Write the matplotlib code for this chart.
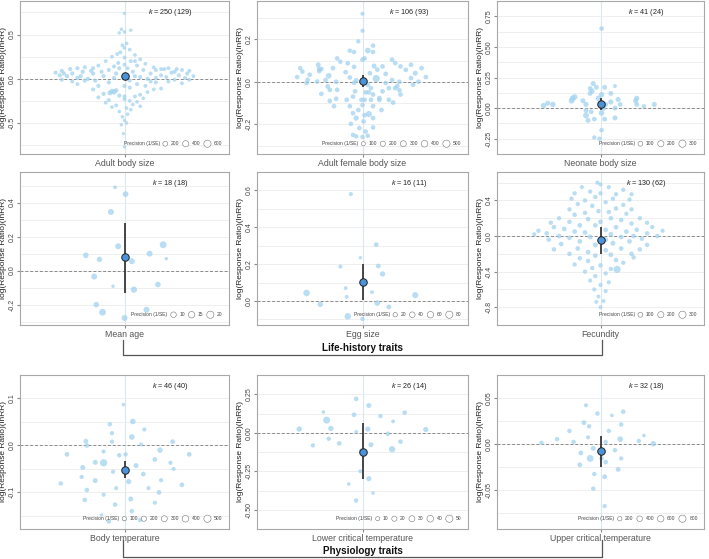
import matplotlib
matplotlib.use("Agg")
import matplotlib.pyplot as plt
import numpy as np
from matplotlib.offsetbox import HPacker, TextArea, DrawingArea, AnchoredOffsetbox
from matplotlib.patches import Circle
from matplotlib.lines import Line2D

plt.rcParams['font.family'] = ['Liberation Sans', 'DejaVu Sans']
plt.rcParams['mathtext.fontset'] = 'custom'
plt.rcParams['mathtext.it'] = 'Liberation Sans:italic'
plt.rcParams['mathtext.rm'] = 'Liberation Sans'

# ---------------- data ----------------
labels = ["Adult body size", "Adult female body size", "Neonate body size",
          "Mean age", "Egg size", "Fecundity",
          "Body temperature", "Lower critical temperature", "Upper critical temperature"]
k_effects = [250, 106, 41, 18, 16, 130, 46, 26, 32]
k_studies = [129, 93, 24, 18, 11, 62, 40, 14, 18]
means = [0.031, 0.003, 0.034, 0.082, 0.105, -0.05, -0.052, -0.122, -0.008]
ci_low = [0.0, -0.025, -0.018, -0.13, 0.005, -0.20, -0.070, -0.298, -0.025]
ci_high = [0.06, 0.030, 0.081, 0.28, 0.20, 0.10, -0.033, 0.064, 0.009]
legend_prec = [[200, 400, 600], [100, 200, 300, 400, 500], [100, 200, 300],
               [10, 15, 20], [20, 40, 60, 80], [100, 200, 300],
               [100, 200, 300, 400, 500], [10, 20, 30, 40, 50], [200, 400, 600, 800]]
y_limits = [(-0.85, 0.88), (-0.34, 0.38), (-0.30, 0.755), (-0.32, 0.58), (-0.13, 0.68),
            (-0.86, 0.72), (-0.178, 0.110), (-0.537, 0.28), (-0.093, 0.053)]
y_ticks = [[-0.5, 0.0, 0.5], [-0.2, 0.0, 0.2], [-0.25, 0.0, 0.25, 0.5, 0.75],
           [-0.2, 0.0, 0.2, 0.4], [0.0, 0.2, 0.4, 0.6], [-0.8, -0.4, 0.0, 0.4],
           [-0.1, 0.0, 0.1], [-0.5, -0.25, 0.0, 0.25], [-0.05, 0.0, 0.05]]
y_ticklabels = [["-0.5", "0.0", "0.5"], ["-0.2", "0.0", "0.2"],
                ["-0.25", "0.00", "0.25", "0.50", "0.75"], ["-0.2", "0.0", "0.2", "0.4"],
                ["0.0", "0.2", "0.4", "0.6"], ["-0.8", "-0.4", "0.0", "0.4"],
                ["-0.1", "0.0", "0.1"], ["-0.50", "-0.25", "0.00", "0.25"],
                ["-0.05", "0.00", "0.05"]]
group_labels = ["Life-history traits", "Physiology traits"]

# effect sizes: (jitter, lnRR, precision)
adult_body = [
    (0.00, 0.74, 60), (-0.03, 0.56, 70), (0.00, 0.53, 70), (0.06, 0.55, 60), (-0.05, 0.52, 60),
    (0.02, 0.40, 80), (-0.02, 0.38, 80), (0.05, 0.33, 80), (-0.04, 0.30, 90), (0.10, 0.27, 80),
    (-0.12, 0.25, 90), (0.00, 0.24, 100), (0.15, 0.22, 90), (-0.18, 0.20, 90), (0.06, 0.20, 100),
    (-0.06, 0.18, 100), (0.20, 0.17, 90), (-0.25, 0.15, 100), (0.12, 0.15, 100), (-0.10, 0.14, 110),
    (0.28, 0.13, 90), (-0.30, 0.12, 110), (0.03, 0.12, 100), (0.35, 0.11, 90), (-0.38, 0.13, 110),
    (-0.15, 0.10, 110), (0.18, 0.10, 100), (0.42, 0.12, 100), (-0.45, 0.12, 120), (0.08, 0.08, 110),
    (-0.22, 0.08, 110), (0.50, 0.11, 100), (-0.52, 0.11, 120), (0.25, 0.06, 110), (-0.30, 0.06, 130),
    (0.55, 0.10, 100), (-0.60, 0.09, 120), (0.00, 0.05, 110), (0.62, 0.09, 100), (-0.40, 0.08, 130),
    (0.35, 0.04, 110), (-0.66, 0.07, 110), (0.45, 0.07, 110), (-0.20, 0.03, 130), (0.60, 0.06, 110),
    (-0.50, 0.06, 130), (0.15, 0.02, 110), (-0.10, 0.01, 120), (0.30, 0.01, 110), (-0.62, 0.04, 120),
    (0.52, 0.04, 110), (-0.35, 0.00, 130), (0.22, 0.00, 110), (0.66, 0.03, 100), (-0.55, 0.03, 130),
    (0.40, 0.02, 110), (-0.28, -0.02, 130), (0.05, -0.02, 120), (-0.45, 0.01, 130), (0.58, 0.01, 100),
    (-0.15, -0.04, 130), (0.30, -0.04, 110), (-0.60, -0.01, 110), (0.48, -0.01, 100), (-0.38, -0.02, 120),
    (0.12, -0.06, 110), (-0.50, -0.03, 110), (0.42, -0.03, 100), (-0.25, -0.08, 120), (0.20, -0.08, 100),
    (0.55, -0.05, 90), (-0.45, -0.06, 100), (0.05, -0.10, 110), (0.35, -0.11, 90), (-0.30, -0.12, 110),
    (0.28, -0.12, 90), (-0.08, -0.13, 150), (-0.12, -0.14, 220), (-0.10, -0.15, 250), (-0.14, -0.16, 200),
    (0.22, -0.15, 90), (-0.20, -0.17, 130), (0.15, -0.18, 90), (-0.05, -0.19, 120), (0.10, -0.20, 90),
    (-0.25, -0.21, 100), (0.18, -0.22, 80), (-0.15, -0.24, 100), (0.05, -0.25, 90), (0.12, -0.26, 80),
    (-0.18, -0.27, 90), (0.08, -0.29, 80), (-0.08, -0.30, 90), (0.15, -0.31, 80), (-0.12, -0.32, 80),
    (0.02, -0.33, 80), (0.06, -0.35, 70), (-0.05, -0.37, 70), (0.03, -0.40, 70), (-0.02, -0.43, 70),
    (0.00, -0.47, 60), (0.02, -0.50, 60), (-0.03, -0.52, 60), (-0.01, -0.62, 50), (0.00, -0.77, 50),
    (-0.08, 0.06, 120), (0.10, 0.03, 120), (-0.42, 0.03, 130), (0.38, 0.11, 110), (0.48, 0.08, 110),
    (0.25, -0.03, 110), (-0.32, 0.09, 120), (-0.58, 0.06, 120), (0.62, -0.01, 100), (0.30, 0.10, 100),
    (-0.05, 0.12, 110), (0.00, 0.16, 100), (0.10, 0.20, 90), (-0.07, 0.28, 90), (0.00, 0.35, 80),
    (0.00, -0.08, 120), (0.00, -0.20, 110), (0.00, -0.23, 100),
]
female_body = [
    (0.00, 0.32, 100), (0.00, 0.24, 100), (-0.04, 0.19, 120), (-0.12, 0.146, 130), (-0.08, 0.14, 130),
    (0.05, 0.147, 260), (0.10, 0.17, 140), (0.10, 0.14, 140), (0.00, 0.104, 150), (-0.24, 0.11, 140),
    (-0.21, 0.094, 140), (-0.14, 0.087, 150), (-0.08, 0.07, 150), (0.02, 0.11, 150), (-0.42, 0.08, 170),
    (-0.41, 0.06, 170), (-0.41, 0.05, 160), (-0.59, 0.064, 140), (-0.57, 0.048, 140), (-0.32, 0.028, 260),
    (-0.28, 0.064, 150), (-0.16, 0.045, 150), (-0.39, 0.06, 150), (-0.50, 0.033, 150), (-0.62, 0.022, 140),
    (-0.52, 0.009, 150), (-0.53, -0.006, 150), (-0.43, 0.001, 150), (-0.35, 0.008, 150), (-0.25, 0.0, 150),
    (-0.12, 0.02, 150), (-0.08, -0.005, 150), (-0.06, 0.007, 150), (0.07, 0.04, 150), (0.11, 0.074, 180),
    (0.14, 0.057, 150), (0.19, 0.072, 150), (0.13, 0.015, 500), (0.22, 0.037, 150), (0.28, 0.104, 160),
    (0.31, 0.088, 150), (0.36, 0.072, 150), (0.41, 0.056, 150), (0.46, 0.08, 150), (0.50, 0.04, 180),
    (0.56, 0.064, 150), (0.60, 0.022, 150), (0.46, 0.017, 150), (0.53, 0.0, 150), (0.48, -0.014, 150),
    (0.35, 0.0, 150), (0.33, -0.02, 150), (0.31, -0.03, 150), (0.35, -0.04, 150), (0.36, -0.06, 150),
    (0.28, 0.008, 150), (0.22, -0.006, 150), (0.25, -0.03, 150), (0.19, -0.045, 150), (0.16, -0.077, 150),
    (0.08, -0.03, 150), (0.10, -0.06, 150), (0.05, -0.014, 150), (0.06, -0.05, 150), (-0.33, -0.022, 150),
    (-0.31, -0.038, 150), (-0.39, -0.057, 150), (-0.24, -0.038, 150), (-0.25, -0.08, 150), (-0.31, -0.09, 150),
    (-0.27, -0.115, 150), (-0.15, -0.085, 150), (-0.07, -0.045, 150), (-0.09, -0.07, 150), (-0.12, -0.115, 150),
    (-0.01, -0.085, 150), (0.00, -0.11, 150), (0.03, -0.05, 150), (0.02, -0.085, 150), (0.08, -0.085, 150),
    (0.10, -0.115, 150), (0.16, -0.085, 150), (0.18, -0.133, 150), (0.25, -0.085, 150), (0.29, -0.098, 150),
    (-0.04, -0.133, 150), (-0.09, -0.148, 150), (0.02, -0.157, 150), (0.06, -0.152, 320), (-0.06, -0.171, 220),
    (0.01, -0.187, 150), (0.10, -0.171, 150), (-0.11, -0.198, 140), (-0.03, -0.218, 140), (0.03, -0.234, 140),
    (0.10, -0.215, 140), (-0.09, -0.25, 130), (-0.06, -0.257, 130), (0.00, -0.26, 130), (0.05, -0.254, 130),
]
neonate_body = [
    (0.01, 0.65, 80), (-0.07, 0.20, 110), (-0.04, 0.17, 100), (-0.10, 0.16, 100), (-0.10, 0.12, 110),
    (-0.08, 0.14, 100), (0.01, 0.11, 130), (0.04, 0.17, 100), (0.14, 0.18, 50), (0.10, 0.12, 100),
    (-0.27, 0.08, 160), (-0.28, 0.06, 160), (-0.25, 0.09, 160), (-0.55, 0.02, 140), (-0.51, 0.04, 110),
    (-0.46, 0.03, 140), (-0.17, 0.06, 110), (-0.14, 0.03, 120), (-0.02, 0.08, 150), (0.03, 0.0, 130),
    (0.10, 0.05, 120), (0.17, 0.07, 110), (0.19, 0.03, 90), (0.35, 0.08, 120), (0.34, 0.06, 110),
    (0.35, 0.03, 100), (0.42, 0.015, 70), (0.52, 0.03, 110), (0.14, 0.0, 100), (-0.14, -0.02, 100),
    (-0.09, -0.03, 90), (-0.14, -0.06, 170), (-0.12, -0.10, 100), (-0.06, -0.09, 90), (0.01, -0.04, 150),
    (0.04, -0.09, 100), (0.14, -0.08, 110), (0.01, -0.18, 80), (-0.06, -0.24, 70), (-0.01, -0.25, 70),
    (0.05, 0.03, 100),
]
mean_age = [
    (-0.09, 0.49, 3), (0.01, 0.45, 11), (-0.13, 0.345, 12), (-0.06, 0.143, 12), (0.37, 0.152, 18),
    (0.24, 0.10, 12), (-0.37, 0.09, 10), (-0.24, 0.066, 9), (0.07, 0.055, 12), (0.40, 0.07, 2),
    (-0.29, -0.035, 12), (0.32, -0.082, 10), (0.09, -0.112, 14), (-0.11, -0.092, 2), (-0.27, -0.20, 10),
    (-0.21, -0.245, 17), (0.21, -0.23, 12), (0.00, -0.279, 12),
]
egg_size = [
    (-0.11, 0.58, 15), (0.13, 0.306, 25), (-0.02, 0.235, 8), (-0.21, 0.187, 15), (0.15, 0.19, 25),
    (0.19, 0.147, 35), (-0.16, 0.07, 12), (-0.15, 0.023, 12), (0.09, 0.048, 12), (-0.53, 0.044, 60),
    (0.50, 0.032, 50), (-0.40, -0.018, 35), (0.14, -0.011, 40), (0.25, -0.032, 25), (-0.14, -0.083, 60),
    (0.00, -0.097, 20),
]
fecundity = [
    (-0.03, 0.60, 60), (0.00, 0.58, 60), (-0.18, 0.55, 60), (0.22, 0.52, 70), (0.08, 0.55, 60),
    (-0.10, 0.50, 70), (-0.25, 0.48, 70), (0.30, 0.47, 60), (0.00, 0.48, 70), (0.15, 0.47, 70),
    (-0.05, 0.44, 70), (-0.28, 0.42, 70), (0.28, 0.41, 70), (0.12, 0.42, 70), (-0.15, 0.40, 70),
    (0.05, 0.38, 70), (-0.22, 0.36, 70), (0.22, 0.35, 70), (-0.08, 0.34, 80), (0.30, 0.30, 70),
    (-0.30, 0.30, 70), (0.15, 0.31, 80), (-0.02, 0.28, 80), (0.08, 0.27, 80), (-0.15, 0.26, 80),
    (0.25, 0.25, 70), (-0.25, 0.24, 80), (-0.40, 0.20, 70), (0.38, 0.20, 70), (0.10, 0.20, 80),
    (-0.12, 0.19, 90), (0.20, 0.18, 80), (-0.30, 0.16, 80), (0.45, 0.15, 70), (-0.48, 0.15, 70),
    (0.00, 0.16, 90), (0.30, 0.14, 80), (-0.20, 0.12, 90), (-0.05, 0.12, 90), (-0.45, 0.10, 80),
    (0.50, 0.10, 70), (0.15, 0.10, 90), (-0.35, 0.08, 90), (0.35, 0.07, 80), (0.05, 0.07, 90),
    (-0.60, 0.06, 70), (0.60, 0.06, 60), (-0.25, 0.05, 90), (0.25, 0.05, 90), (-0.15, 0.04, 90),
    (-0.52, 0.03, 80), (0.45, 0.03, 80), (0.10, 0.02, 90), (-0.64, 0.02, 60), (0.55, 0.00, 80),
    (-0.40, 0.00, 90), (0.32, 0.00, 90), (-0.10, -0.01, 100), (0.20, -0.01, 90), (-0.30, -0.02, 90),
    (0.40, -0.03, 80), (-0.50, -0.04, 80), (0.05, -0.04, 100), (-0.20, -0.06, 90), (0.28, -0.06, 90),
    (0.12, -0.08, 100), (-0.38, -0.09, 90), (0.45, -0.10, 80), (-0.05, -0.10, 100), (-0.45, -0.15, 80),
    (0.38, -0.15, 80), (-0.22, -0.14, 90), (0.20, -0.14, 90), (0.05, -0.16, 90), (-0.12, -0.18, 90),
    (0.30, -0.20, 80), (-0.30, -0.20, 80), (0.10, -0.21, 90), (-0.05, -0.22, 90), (0.32, -0.24, 80),
    (-0.20, -0.25, 80), (0.15, -0.27, 80), (-0.12, -0.28, 80), (0.22, -0.30, 70), (-0.25, -0.32, 70),
    (0.00, -0.33, 80), (-0.08, -0.36, 70), (0.10, -0.37, 70), (0.16, -0.375, 300), (-0.15, -0.40, 70),
    (0.05, -0.42, 70), (-0.05, -0.45, 70), (-0.10, -0.50, 60), (0.08, -0.52, 60), (0.00, -0.55, 60),
    (-0.06, -0.60, 60), (0.05, -0.62, 60), (-0.02, -0.68, 50), (-0.04, -0.74, 50), (0.03, -0.73, 50),
    (0.00, -0.80, 50),
]
body_temp = [
    (-0.01, 0.087, 60), (0.08, 0.051, 250), (-0.14, 0.045, 120), (0.19, 0.034, 100), (-0.12, 0.026, 110),
    (0.07, 0.018, 250), (-0.37, 0.009, 150), (-0.36, 0.0, 150), (-0.12, 0.008, 110), (0.16, 0.002, 100),
    (0.46, 0.008, 150), (-0.55, -0.019, 150), (-0.20, -0.013, 100), (0.01, -0.019, 120), (-0.05, -0.021, 130),
    (0.34, -0.010, 230), (0.62, -0.019, 150), (-0.40, -0.047, 180), (-0.28, -0.036, 170), (-0.20, -0.037, 500),
    (0.11, -0.043, 180), (0.29, -0.030, 150), (0.44, -0.037, 100), (0.47, -0.050, 100), (-0.41, -0.067, 110),
    (-0.28, -0.075, 170), (-0.11, -0.056, 100), (0.18, -0.061, 150), (0.04, -0.077, 200), (0.35, -0.074, 100),
    (-0.61, -0.081, 120), (0.55, -0.084, 150), (0.23, -0.091, 100), (-0.08, -0.091, 100), (-0.36, -0.095, 130),
    (0.33, -0.100, 150), (-0.20, -0.105, 100), (-0.38, -0.116, 130), (0.06, -0.114, 170), (0.29, -0.122, 100),
    (-0.09, -0.126, 130), (0.07, -0.140, 130), (-0.22, -0.148, 40), (-0.15, -0.162, 130), (0.15, -0.159, 130),
    (0.00, -0.157, 120),
]
lower_ct = [
    (-0.06, 0.22, 14), (0.06, 0.177, 18), (-0.37, 0.135, 6), (-0.08, 0.117, 15), (0.17, 0.108, 12),
    (0.40, 0.131, 14), (-0.34, 0.082, 45), (0.29, 0.074, 8), (-0.60, 0.024, 22), (-0.30, 0.028, 22),
    (0.05, 0.024, 20), (0.60, 0.021, 20), (-0.06, 0.007, 6), (0.24, -0.007, 14), (-0.32, -0.039, 12),
    (-0.47, -0.082, 12), (-0.22, -0.069, 14), (0.08, -0.078, 18), (0.36, -0.058, 14), (0.28, -0.107, 35),
    (-0.02, -0.25, 10), (0.06, -0.298, 20), (-0.13, -0.333, 6), (0.10, -0.392, 6), (-0.06, -0.44, 12),
    (-0.01, -0.117, 15),
]
upper_ct = [
    (-0.14, 0.042, 150), (-0.03, 0.033, 200), (0.11, 0.031, 100), (0.22, 0.035, 220), (-0.16, 0.023, 250),
    (-0.11, 0.019, 200), (0.20, 0.021, 200), (-0.30, 0.014, 200), (0.08, 0.014, 200), (0.42, 0.009, 100),
    (-0.42, 0.005, 200), (-0.26, 0.002, 200), (-0.12, 0.007, 150), (0.19, 0.005, 400), (0.37, 0.003, 200),
    (-0.57, 0.001, 200), (0.51, 0.0, 380), (0.05, 0.002, 200), (-0.07, -0.005, 300), (0.14, -0.007, 200),
    (-0.19, -0.010, 250), (-0.10, -0.016, 700), (0.20, -0.016, 180), (0.05, -0.020, 250), (-0.20, -0.023, 250),
    (0.17, -0.028, 250), (-0.06, -0.033, 200), (0.04, -0.036, 250), (-0.07, -0.049, 200), (0.04, -0.068, 180),
    (0.00, -0.008, 300), (0.01, -0.016, 200),
]
panel_points = [adult_body, female_body, neonate_body, mean_age, egg_size, fecundity,
                body_temp, lower_ct, upper_ct]

# ---------------- layout ----------------
W, H = 709, 559
fig = plt.figure(figsize=(W / 100, H / 100), dpi=100)
rows = [(1, 154), (172, 325), (375, 529)]
cols = [(20, 229), (257, 468), (497, 704)]

POINT = '#a2d2ee'
MEAN = '#4a93db'
DMIN, DMAX = 1.2, 5.2  # marker diameters (pt)


def box(x0, y0, x1, y1):
    return [x0 / W, 1 - y1 / H, (x1 - x0) / W, (y1 - y0) / H]


def diam(p, pmax):
    return DMIN + (DMAX - DMIN) * np.sqrt(np.asarray(p, dtype=float) / pmax)


for i in range(9):
    r, c = divmod(i, 3)
    ax = fig.add_axes(box(cols[c][0], rows[r][0], cols[c][1], rows[r][1]))
    pts = np.array(panel_points[i], dtype=float)
    pmax = legend_prec[i][-1]
    d = diam(pts[:, 2], pmax)
    ax.set_xlim(-1, 1)
    ax.set_ylim(*y_limits[i])

    yt = y_ticks[i]
    step = yt[1] - yt[0]
    minor = [v + step / 2 for v in [yt[0] - step] + yt]
    ax.set_yticks(yt, y_ticklabels[i])
    ax.set_yticks(minor, minor=True)
    ax.grid(axis='y', which='both', color='#ececec', lw=0.6)
    ax.set_axisbelow(True)
    ax.axvline(0, color='#dbe7f0', lw=0.8, zorder=0)
    ax.axhline(0, color='#8a8a8a', ls=(0, (3, 2)), lw=0.7, zorder=1)

    ax.scatter(pts[:, 0], pts[:, 1], s=d ** 2, c=POINT, alpha=0.75, lw=0, zorder=2)
    ax.vlines(0, ci_low[i], ci_high[i], color='#383838', lw=1.3, zorder=3)
    ax.plot([0], [means[i]], 'o', ms=5.4, mfc=MEAN, mec='#1e1e1e', mew=0.7, zorder=4)

    ax.set_xticks([0], [labels[i]])
    ax.tick_params(axis='x', length=2, pad=1.5, labelsize=6.3, labelcolor='#555555', color='#888888')
    ax.tick_params(axis='y', which='major', length=2, pad=1, labelsize=5, labelcolor='#444444',
                   color='#888888')
    ax.tick_params(axis='y', which='minor', length=0)
    plt.setp(ax.get_yticklabels(), rotation=90, va='center', ha='right')
    ax.set_ylabel("log(Response Ratio)(lnRR)", fontsize=6, labelpad=1, color='#222222')
    for s in ax.spines.values():
        s.set_color('#a8a8a8')
        s.set_linewidth(0.8)

    ax.text(0.72, 0.925, f"$k$ = {k_effects[i]} ({k_studies[i]})", transform=ax.transAxes,
            ha='center', va='center', fontsize=5.2, color='#222222')

    tp = dict(fontsize=3.6, color='#444444')
    children = [TextArea("Precision (1/SE)", textprops=tp)]
    for p in legend_prec[i]:
        dd = float(diam(p, pmax))
        da = DrawingArea(dd + 0.6, dd + 0.6, 0, 0)
        da.add_artist(Circle(((dd + 0.6) / 2, (dd + 0.6) / 2), dd / 2, fc='white', ec='#777777', lw=0.4))
        children.append(da)
        children.append(TextArea(str(p), textprops=tp))
    hp = HPacker(children=children, align='center', pad=0, sep=2)
    ab = AnchoredOffsetbox(loc='lower right', child=hp, pad=0.1, borderpad=0.35, frameon=False)
    ax.add_artist(ab)

# group brackets
brackets = [(340, 355, 348), (540, 557, 551)]
xl, xr, xm = 123, 602, 363
for (ytop, ybot, ytxt), name in zip(brackets, group_labels):
    fig.add_artist(Line2D([xl / W, xl / W, xr / W, xr / W],
                          [1 - ytop / H, 1 - ybot / H, 1 - ybot / H, 1 - ytop / H],
                          color='#555555', lw=0.9))
    fig.text(xm / W, 1 - ytxt / H, name, ha='center', va='center', fontsize=7.1,
             fontweight='bold', color='#111111')

fig.savefig("out.png", dpi=100)
